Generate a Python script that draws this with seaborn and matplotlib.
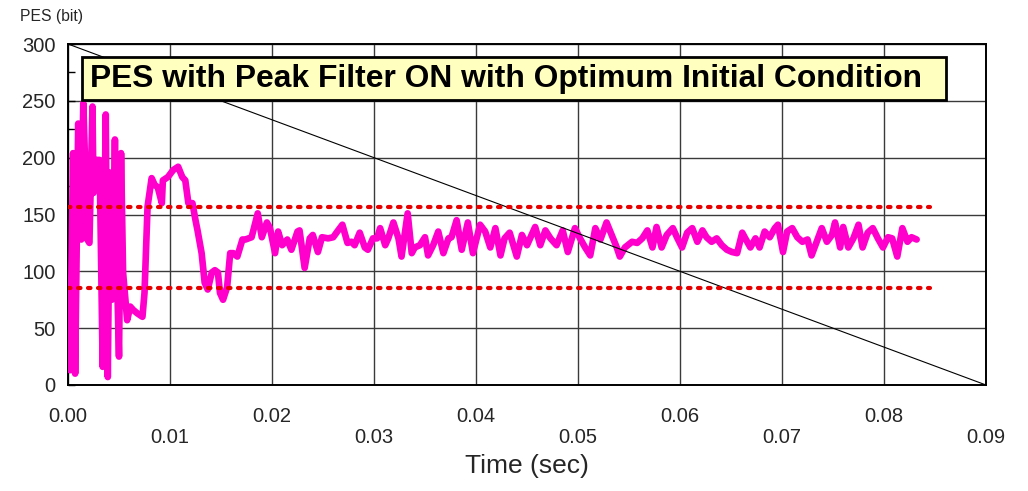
import numpy as np
import pandas as pd
import matplotlib
matplotlib.use("Agg")
import matplotlib.pyplot as plt
from matplotlib.patches import Rectangle
import seaborn as sns

# Position error signal over time (seconds, bits)
time_s = [
    0.0002, 0.0005, 0.0007, 0.0010, 0.0013, 0.0015, 0.0019, 0.0021, 0.0024, 0.0025,
    0.0028, 0.0031, 0.0034, 0.0037, 0.0039, 0.0041, 0.0043, 0.0046, 0.0048, 0.0050,
    0.0052, 0.0054, 0.0058, 0.0061, 0.0064, 0.0068, 0.0073, 0.0075, 0.0078, 0.0082,
    0.0085, 0.0088, 0.0092, 0.0093, 0.0098, 0.0103, 0.0108, 0.0112, 0.0115, 0.0118,
    0.0122, 0.0125, 0.0127, 0.0131, 0.0134, 0.0137, 0.0141, 0.0144, 0.0147, 0.0149,
    0.0152, 0.0156, 0.0159, 0.0162, 0.0166, 0.0171, 0.0174, 0.0180, 0.0186, 0.0190,
    0.0195, 0.0198, 0.0203, 0.0206, 0.0210, 0.0215, 0.0219, 0.0225, 0.0227, 0.0232,
    0.0237, 0.0240, 0.0245, 0.0249, 0.0255, 0.0260, 0.0264, 0.0269, 0.0274, 0.0278,
    0.0281, 0.0286, 0.0291, 0.0294, 0.0299, 0.0303, 0.0306, 0.0311, 0.0314, 0.0319,
    0.0324, 0.0327, 0.0333, 0.0337, 0.0340, 0.0345, 0.0350, 0.0353, 0.0358, 0.0363,
    0.0368, 0.0373, 0.0376, 0.0381, 0.0386, 0.0392, 0.0397, 0.0404, 0.0409, 0.0414,
    0.0419, 0.0424, 0.0428, 0.0433, 0.0440, 0.0445, 0.0450, 0.0453, 0.0458, 0.0463,
    0.0468, 0.0473, 0.0479, 0.0485, 0.0490, 0.0497, 0.0502, 0.0507, 0.0512, 0.0517,
    0.0522, 0.0528, 0.0533, 0.0538, 0.0541, 0.0546, 0.0553, 0.0558, 0.0563, 0.0568,
    0.0573, 0.0577, 0.0582, 0.0587, 0.0593, 0.0597, 0.0602, 0.0607, 0.0612, 0.0617,
    0.0622, 0.0626, 0.0631, 0.0636, 0.0641, 0.0646, 0.0651, 0.0656, 0.0661, 0.0664,
    0.0669, 0.0674, 0.0678, 0.0683, 0.0688, 0.0693, 0.0696, 0.0701, 0.0705, 0.0710,
    0.0715, 0.0720, 0.0725, 0.0729, 0.0734, 0.0739, 0.0744, 0.0749, 0.0752, 0.0757,
    0.0760, 0.0765, 0.0770, 0.0775, 0.0779, 0.0784, 0.0789, 0.0794, 0.0799, 0.0804,
    0.0808, 0.0813, 0.0818, 0.0823, 0.0827, 0.0832,
]
pes_bit = [
    13, 204, 10, 230, 128, 248, 128, 125, 245, 169,
    198, 198, 16, 238, 7, 187, 75, 216, 99, 25,
    204, 99, 57, 69, 66, 63, 60, 81, 157, 182,
    176, 174, 160, 180, 183, 189, 192, 183, 180, 160,
    160, 145, 136, 116, 90, 84, 99, 101, 99, 81,
    75, 86, 116, 116, 113, 128, 128, 130, 151, 130,
    143, 138, 116, 135, 123, 128, 119, 135, 136, 103,
    129, 132, 117, 130, 129, 130, 135, 141, 125, 126,
    123, 134, 121, 119, 129, 129, 138, 123, 129, 143,
    129, 113, 151, 116, 121, 123, 130, 114, 123, 135,
    116, 129, 130, 145, 119, 143, 116, 141, 135, 121,
    138, 114, 129, 134, 113, 132, 123, 129, 139, 123,
    136, 129, 123, 136, 117, 138, 129, 121, 114, 138,
    128, 143, 132, 121, 113, 121, 126, 125, 129, 136,
    121, 139, 121, 132, 138, 130, 121, 134, 138, 126,
    136, 130, 126, 129, 123, 119, 117, 116, 134, 129,
    121, 129, 121, 135, 130, 138, 141, 117, 135, 138,
    130, 126, 128, 114, 126, 138, 126, 132, 143, 121,
    139, 121, 129, 141, 121, 134, 138, 129, 121, 130,
    129, 113, 138, 126, 130, 128,
]

# Tolerance band limits and reference ramp
band_limits = [157, 85]
band_end = 0.0845
ramp_time = [0.0, 0.09]
ramp_value = [300, 0]

x_ticks = [0.00, 0.01, 0.02, 0.03, 0.04, 0.05, 0.06, 0.07, 0.08, 0.09]
x_tick_labels = ["0.00", "0.01", "0.02", "0.03", "0.04", "0.05", "0.06", "0.07", "0.08", "0.09"]
y_ticks = [0, 50, 100, 150, 200, 250, 300]

title_text = "PES with Peak Filter ON with Optimum Initial Condition"

sns.set_theme(style="white")
plt.rcParams["font.family"] = ["Liberation Sans", "DejaVu Sans"]

fig = plt.figure(figsize=(10.28, 4.91), dpi=100)
ax = fig.add_axes([68 / 1028, 1 - 385 / 491, 918 / 1028, 341 / 491])
ax.set_facecolor("white")

df = pd.DataFrame({"time": time_s, "pes": pes_bit})
sns.lineplot(data=df, x="time", y="pes", ax=ax, color="#FF00CC", linewidth=4.8,
             estimator=None, sort=False, zorder=3)
line = ax.get_lines()[-1]
line.set_solid_joinstyle("round")
line.set_solid_capstyle("round")

# Reference ramp
sns.lineplot(x=ramp_time, y=ramp_value, ax=ax, color="black", linewidth=0.8,
             estimator=None, zorder=4)

# Tolerance band
for lim in band_limits:
    ax.hlines(lim, 0, band_end, colors="#E60000", linewidth=3.0,
              linestyles=(0, (0.6, 1.8)), zorder=5, capstyle="round")
for coll in ax.collections:
    coll.set_capstyle("round")

ax.set_xlim(0, 0.09)
ax.set_ylim(0, 300)
ax.set_xticks(x_ticks)
ax.set_xticklabels([lab if i % 2 == 0 else "\n" + lab for i, lab in enumerate(x_tick_labels)],
                   fontsize=14.5, linespacing=1.1)
ax.set_yticks(y_ticks)
ax.set_yticklabels([str(v) for v in y_ticks], fontsize=14.5)
ax.set_yticks([25, 75, 125, 175, 225, 275], minor=True)
ax.tick_params(axis="y", which="both", direction="in", length=5, width=1, color="black",
               left=True, pad=9)
ax.tick_params(axis="x", which="both", direction="in", length=0, pad=16)

ax.grid(True, which="major", color="#3a3a3a", linewidth=1.0)
ax.set_axisbelow(True)
for s in ax.spines.values():
    s.set_color("black")
    s.set_linewidth(1.4)

ax.set_xlabel("Time (sec)", fontsize=19)
ax.xaxis.set_label_coords(0.5, (385 - 454) / 341)
ax.set_ylabel("")
fig.text(20 / 1028, 1 - 16 / 491, "PES (bit)", fontsize=11.3, ha="left", va="center")

# Title box
box = Rectangle((82 / 1028, 1 - 100 / 491), 864 / 1028, 43 / 491, transform=fig.transFigure,
                facecolor="#FFFFC0", edgecolor="black", linewidth=2, zorder=10, clip_on=False)
ax.add_patch(box)
ax.text(506 / 1028, 1 - 78.5 / 491, title_text, transform=fig.transFigure, fontsize=22.9,
        fontweight="bold", ha="center", va="center", zorder=11, color="black")

fig.savefig("out.png", dpi=100)
